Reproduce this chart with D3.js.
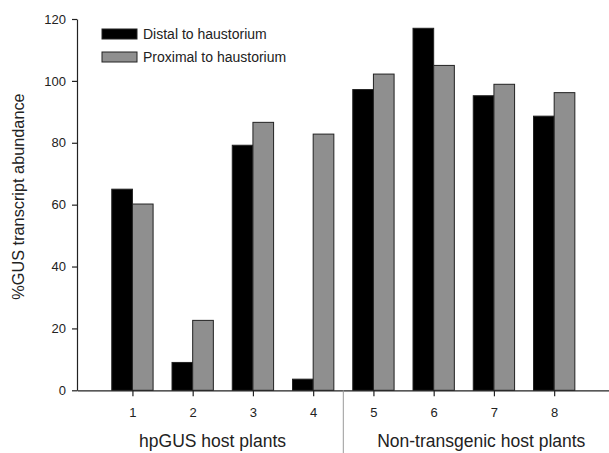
<!DOCTYPE html>
<html>
<head>
<meta charset="utf-8">
<script src="https://cdn.jsdelivr.net/npm/d3@7"></script>
<style>
  body { margin: 0; background: #fff; }
  svg text { font-family: "Liberation Sans", Arial, sans-serif; fill: #222; }
</style>
</head>
<body>
<div id="container"></div>
<script>
// chart data
const plants = [1, 2, 3, 4, 5, 6, 7, 8];
const distal = [65, 9, 79.2, 3.6, 97.2, 117, 95.2, 88.6];
const proximal = [60.2, 22.6, 86.6, 82.8, 102.2, 105, 98.9, 96.2];
const seriesNames = ["Distal to haustorium", "Proximal to haustorium"];
const yTicks = [0, 20, 40, 60, 80, 100, 120];
const groupLabels = ["hpGUS host plants", "Non-transgenic host plants"];

const width = 609;
const height = 453;

const svg = d3.select("#container")
  .append("svg")
  .attr("width", width)
  .attr("height", height);

// scales
const x = d3.scaleLinear()
  .domain([0.08, 8.91])
  .range([77, 609]);

const y = d3.scaleLinear()
  .domain([0, 120])
  .range([390.3, 19]);

const barW = 0.343; // in category units

/*=== bars ===*/
const series = [
  { name: seriesNames[0], values: distal, fill: "#000", offset: -barW },
  { name: seriesNames[1], values: proximal, fill: "#8f8f8f", offset: 0 }
];

series.forEach(s => {
  svg.append("g")
    .selectAll("rect")
    .data(plants)
    .enter()
    .append("rect")
    .attr("x", (d) => x(d + s.offset))
    .attr("width", x(barW) - x(0))
    .attr("y", (d, i) => y(s.values[i]))
    .attr("height", (d, i) => y(0) - y(s.values[i]))
    .attr("fill", s.fill)
    .attr("stroke", "#222")
    .attr("stroke-width", 1);
});

/*=== axes ===*/
const xAxis = svg.append("g")
  .attr("transform", `translate(0, ${y(0)})`)
  .call(d3.axisBottom(x).tickValues(plants).tickSize(6).tickPadding(11).tickSizeOuter(0));

const yAxis = svg.append("g")
  .attr("transform", `translate(${x.range()[0]}, 0)`)
  .call(d3.axisLeft(y).tickValues(yTicks).tickSize(5).tickPadding(6).tickSizeOuter(0));

[xAxis, yAxis].forEach(a => {
  a.select(".domain").attr("stroke", "#222").attr("stroke-width", 1.2);
  a.selectAll(".tick line").attr("stroke", "#222").attr("stroke-width", 1.2);
  a.selectAll(".tick text")
    .attr("font-size", 13)
    .attr("font-family", "Liberation Sans, Arial, sans-serif")
    .attr("fill", "#222");
});

// separator between the two host groups
svg.append("line")
  .attr("x1", x(4.5)).attr("x2", x(4.5))
  .attr("y1", y(0)).attr("y2", height)
  .attr("stroke", "#999")
  .attr("stroke-width", 1);

// group titles
svg.selectAll(".group-label")
  .data(groupLabels)
  .enter()
  .append("text")
  .attr("class", "group-label")
  .attr("x", (d, i) => x(i === 0 ? 2.33 : 6.79))
  .attr("y", 447)
  .attr("text-anchor", "middle")
  .attr("font-size", 17.5)
  .text(d => d);

// y axis title
svg.append("text")
  .attr("transform", `translate(24, ${196.5}) rotate(-90)`)
  .attr("text-anchor", "middle")
  .attr("font-size", 16.3)
  .text("%GUS transcript abundance");

/*=== legend ===*/
const legend = svg.append("g");
series.forEach((s, i) => {
  legend.append("rect")
    .attr("x", 102)
    .attr("y", 29 + i * 23)
    .attr("width", 35)
    .attr("height", 10)
    .attr("fill", s.fill)
    .attr("stroke", "#222");
  legend.append("text")
    .attr("x", 143)
    .attr("y", 39 + i * 23)
    .attr("font-size", 14)
    .text(s.name);
});
</script>
</body>
</html>
